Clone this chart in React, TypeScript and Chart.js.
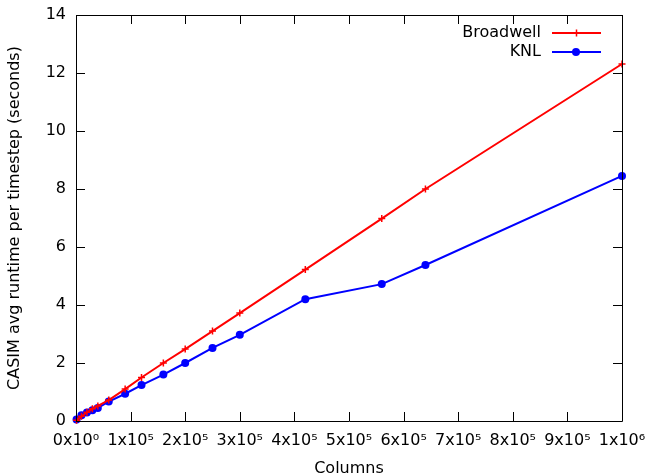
import React, { useEffect, useRef } from "react";
import { Chart, registerables } from "chart.js";

Chart.register(...registerables);

const columns = [1000, 10000, 20000, 30000, 40000, 60000, 90000, 120000, 160000, 200000, 250000, 300000, 420000, 560000, 640000, 1000000];
const broadwell = [0.03, 0.16, 0.3, 0.42, 0.52, 0.72, 1.1, 1.5, 2.0, 2.48, 3.1, 3.72, 5.22, 6.98, 8.0, 12.31];
const knl = [0.05, 0.2, 0.29, 0.37, 0.45, 0.67, 0.94, 1.24, 1.6, 2.0, 2.52, 2.97, 4.2, 4.72, 5.38, 8.45];
const seriesNames = ["Broadwell", "KNL"];
const yTitle = "CASIM avg runtime per timestep (seconds)";
const xTitle = "Columns";
const supDigits: Record<string, string> = { "0": "⁰", "5": "⁵", "6": "⁶" };

const FONT = "'DejaVu Sans', sans-serif";

const framePlugin = {
  id: "frame",
  afterDraw(chart: any) {
    const { ctx, chartArea: a, scales } = chart;
    const xs = scales.x;
    const ys = scales.y;
    const tl = 9;
    ctx.save();
    ctx.strokeStyle = "#000";
    ctx.lineWidth = 1;
    ctx.beginPath();
    ctx.rect(Math.round(a.left) + 0.5, Math.round(a.top) + 0.5, Math.round(a.right - a.left), Math.round(a.bottom - a.top));
    xs.ticks.forEach((t: any) => {
      const x = Math.round(xs.getPixelForValue(t.value)) + 0.5;
      ctx.moveTo(x, a.bottom);
      ctx.lineTo(x, a.bottom - tl);
      ctx.moveTo(x, a.top);
      ctx.lineTo(x, a.top + tl);
    });
    ys.ticks.forEach((t: any) => {
      const y = Math.round(ys.getPixelForValue(t.value)) + 0.5;
      ctx.moveTo(a.left, y);
      ctx.lineTo(a.left + tl, y);
      ctx.moveTo(a.right, y);
      ctx.lineTo(a.right - tl, y);
    });
    ctx.stroke();

    // legend
    const rows = [
      { label: seriesNames[0], color: "#ff0000", y: 33, kind: "cross" },
      { label: seriesNames[1], color: "#0000ff", y: 52, kind: "circle" },
    ];
    ctx.font = `16px ${FONT}`;
    ctx.textAlign = "right";
    ctx.textBaseline = "middle";
    rows.forEach((r) => {
      ctx.fillStyle = "#000";
      ctx.fillText(r.label, 541, r.y);
      ctx.strokeStyle = r.color;
      ctx.lineWidth = 2;
      ctx.beginPath();
      ctx.moveTo(552, r.y);
      ctx.lineTo(601, r.y);
      ctx.stroke();
      if (r.kind === "circle") {
        ctx.fillStyle = r.color;
        ctx.beginPath();
        ctx.arc(576, r.y, 4, 0, Math.PI * 2);
        ctx.fill();
      } else {
        ctx.lineWidth = 1.5;
        ctx.beginPath();
        ctx.moveTo(576.5, r.y - 3.5);
        ctx.lineTo(576.5, r.y + 3.5);
        ctx.moveTo(573, r.y);
        ctx.lineTo(580, r.y);
        ctx.stroke();
      }
    });
    ctx.restore();
  },
};

export default function App() {
  const ref = useRef<HTMLCanvasElement | null>(null);
  useEffect(() => {
    document.body.style.margin = "0";
    const canvas = ref.current;
    if (!canvas) return;
    const chart = new Chart(canvas, {
      type: "line",
      data: {
        datasets: [
          {
            label: seriesNames[0],
            data: columns.map((c, i) => ({ x: c, y: broadwell[i] })),
            borderColor: "#ff0000",
            backgroundColor: "#ff0000",
            borderWidth: 2,
            pointStyle: "cross",
            pointRadius: 3.5,
            pointBorderWidth: 1.5,
            clip: false as any,
          },
          {
            label: seriesNames[1],
            data: columns.map((c, i) => ({ x: c, y: knl[i] })),
            borderColor: "#0000ff",
            backgroundColor: "#0000ff",
            borderWidth: 2,
            pointStyle: "circle",
            pointRadius: 4,
            pointBorderWidth: 0,
            clip: false as any,
          },
        ],
      },
      options: {
        responsive: false,
        animation: false,
        layout: { padding: { left: 0, right: 26, top: 15, bottom: 0 } },
        plugins: { legend: { display: false }, tooltip: { enabled: false } },
        scales: {
          x: {
            type: "linear",
            min: 0,
            max: 1000000,
            grid: { display: false, drawTicks: false },
            border: { display: false },
            ticks: {
              stepSize: 100000,
              autoSkip: false,
              maxRotation: 0,
              padding: 10,
              color: "#000",
              font: { family: FONT, size: 16 },
              callback: (v: any) => {
                const n = Number(v);
                if (n === 0) return "0x10" + supDigits["0"];
                if (n === 1000000) return "1x10" + supDigits["6"];
                return `${Math.round(n / 100000)}x10` + supDigits["5"];
              },
            },
            title: {
              display: true,
              text: xTitle,
              color: "#000",
              font: { family: FONT, size: 16 },
              padding: { top: 0, bottom: -2 },
            },
            afterFit: (s: any) => {
              s.height = 55;
              s.paddingLeft = 0;
              s.paddingRight = 0;
            },
          },
          y: {
            type: "linear",
            min: 0,
            max: 14,
            grid: { display: false, drawTicks: false },
            border: { display: false },
            ticks: {
              stepSize: 2,
              padding: 10,
              color: "#000",
              font: { family: FONT, size: 16 },
            },
            title: {
              display: true,
              text: yTitle,
              color: "#000",
              font: { family: FONT, size: 16 },
              padding: { top: 5, bottom: 0 },
            },
            afterFit: (s: any) => {
              s.width = 76;
              s.paddingTop = 0;
              s.paddingBottom = 0;
            },
          },
        },
      },
      plugins: [framePlugin],
    });
    return () => chart.destroy();
  }, []);
  return <canvas ref={ref} width={648} height={476} style={{ display: "block" }} />;
}
